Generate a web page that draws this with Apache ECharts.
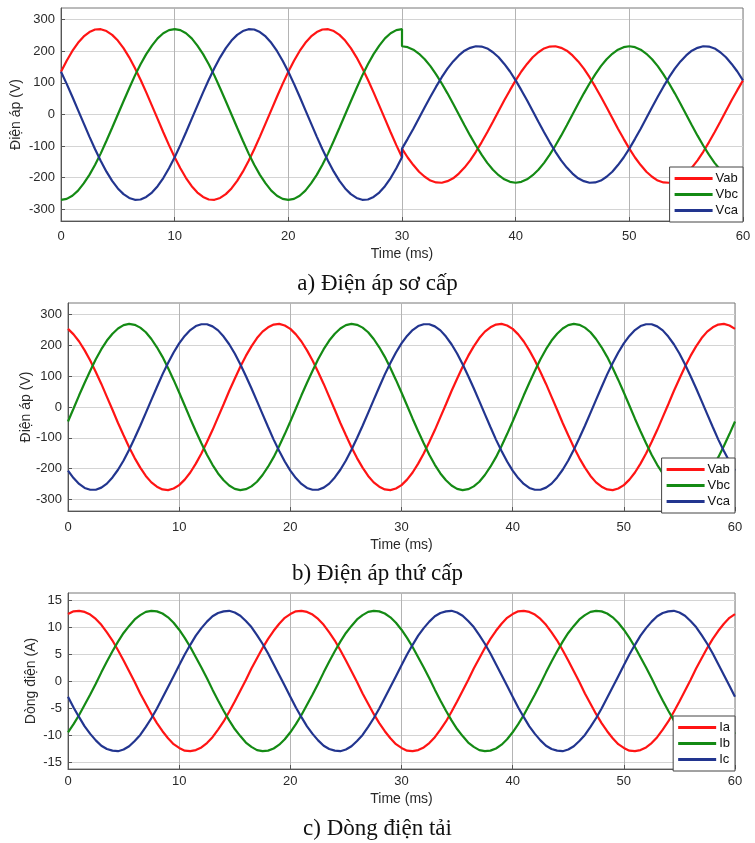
<!DOCTYPE html>
<html><head><meta charset="utf-8">
<script src="https://cdn.jsdelivr.net/npm/echarts@6/dist/echarts.min.js"></script>
<style>html,body{margin:0;padding:0;background:#fff}#c{width:755px;height:843px}</style>
</head><body><div id="c"></div>
<script>
// ---- time axes (ms) ----
const timeA = [0,0.5,1,1.5,2,2.5,3,3.5,4,4.5,5,5.5,6,6.5,7,7.5,8,8.5,9,9.5,
  10,10.5,11,11.5,12,12.5,13,13.5,14,14.5,15,15.5,16,16.5,17,17.5,18,18.5,19,19.5,
  20,20.5,21,21.5,22,22.5,23,23.5,24,24.5,25,25.5,26,26.5,27,27.5,28,28.5,29,29.5,30,
  30,30.5,31,31.5,32,32.5,33,33.5,34,34.5,35,35.5,36,36.5,37,37.5,38,38.5,39,39.5,
  40,40.5,41,41.5,42,42.5,43,43.5,44,44.5,45,45.5,46,46.5,47,47.5,48,48.5,49,49.5,
  50,50.5,51,51.5,52,52.5,53,53.5,54,54.5,55,55.5,56,56.5,57,57.5,58,58.5,59,59.5,60];
const timeBC = [0,0.5,1,1.5,2,2.5,3,3.5,4,4.5,5,5.5,6,6.5,7,7.5,8,8.5,9,9.5,
  10,10.5,11,11.5,12,12.5,13,13.5,14,14.5,15,15.5,16,16.5,17,17.5,18,18.5,19,19.5,
  20,20.5,21,21.5,22,22.5,23,23.5,24,24.5,25,25.5,26,26.5,27,27.5,28,28.5,29,29.5,
  30,30.5,31,31.5,32,32.5,33,33.5,34,34.5,35,35.5,36,36.5,37,37.5,38,38.5,39,39.5,
  40,40.5,41,41.5,42,42.5,43,43.5,44,44.5,45,45.5,46,46.5,47,47.5,48,48.5,49,49.5,
  50,50.5,51,51.5,52,52.5,53,53.5,54,54.5,55,55.5,56,56.5,57,57.5,58,58.5,59,59.5,60];

// ---- a) primary voltages (V) — amplitude step at 30 ms ----
const vabA = [
  135,170,201,227,247,261,269,270,264,252,234,210,181,147,110,70,28,-14,-56,-97,
  -135,-170,-201,-227,-247,-261,-269,-270,-264,-252,-234,-210,-181,-147,-110,-70,-28,14,56,97,
  135,170,201,227,247,261,269,270,264,252,234,210,181,147,110,70,28,-14,-56,-97,-135,
  -108,-136,-160,-181,-197,-209,-215,-216,-211,-202,-187,-168,-145,-118,-88,-56,-23,11,45,77,
  108,136,160,181,197,209,215,216,211,202,187,168,145,118,88,56,23,-11,-45,-77,
  -108,-136,-160,-181,-197,-209,-215,-216,-211,-202,-187,-168,-145,-118,-88,-56,-23,11,45,77,108];
const vbcA = [
  -270,-267,-257,-241,-218,-191,-159,-123,-83,-42,0,42,83,123,159,191,218,241,257,267,
  270,267,257,241,218,191,159,123,83,42,0,-42,-83,-123,-159,-191,-218,-241,-257,-267,
  -270,-267,-257,-241,-218,-191,-159,-123,-83,-42,0,42,83,123,159,191,218,241,257,267,270,
  216,213,205,192,175,153,127,98,67,34,0,-34,-67,-98,-127,-153,-175,-192,-205,-213,
  -216,-213,-205,-192,-175,-153,-127,-98,-67,-34,0,34,67,98,127,153,175,192,205,213,
  216,213,205,192,175,153,127,98,67,34,0,-34,-67,-98,-127,-153,-175,-192,-205,-213,-216];
const vcaA = [
  135,97,56,14,-28,-70,-110,-147,-181,-210,-234,-252,-264,-270,-269,-261,-247,-227,-201,-170,
  -135,-97,-56,-14,28,70,110,147,181,210,234,252,264,270,269,261,247,227,201,170,
  135,97,56,14,-28,-70,-110,-147,-181,-210,-234,-252,-264,-270,-269,-261,-247,-227,-201,-170,-135,
  -108,-77,-45,-11,23,56,88,118,145,168,187,202,211,216,215,209,197,181,160,136,
  108,77,45,11,-23,-56,-88,-118,-145,-168,-187,-202,-211,-216,-215,-209,-197,-181,-160,-136,
  -108,-77,-45,-11,23,56,88,118,145,168,187,202,211,216,215,209,197,181,160,136,108];

// ---- b) secondary voltages (V) ----
const vabB = [
  254,236,213,184,151,114,75,33,-9,-52,-92,-131,-166,-197,-224,-245,-259,-268,-270,-265,
  -254,-236,-213,-184,-151,-114,-75,-33,9,52,92,131,166,197,224,245,259,268,270,265,
  254,236,213,184,151,114,75,33,-9,-52,-92,-131,-166,-197,-224,-245,-259,-268,-270,-265,
  -254,-236,-213,-184,-151,-114,-75,-33,9,52,92,131,166,197,224,245,259,268,270,265,
  254,236,213,184,151,114,75,33,-9,-52,-92,-131,-166,-197,-224,-245,-259,-268,-270,-265,
  -254,-236,-213,-184,-151,-114,-75,-33,9,52,92,131,166,197,224,245,259,268,270,265,254];
const vbcB = [
  -47,-5,38,79,118,155,188,216,238,255,266,270,267,258,243,221,194,163,127,88,
  47,5,-38,-79,-118,-155,-188,-216,-238,-255,-266,-270,-267,-258,-243,-221,-194,-163,-127,-88,
  -47,-5,38,79,118,155,188,216,238,255,266,270,267,258,243,221,194,163,127,88,
  47,5,-38,-79,-118,-155,-188,-216,-238,-255,-266,-270,-267,-258,-243,-221,-194,-163,-127,-88,
  -47,-5,38,79,118,155,188,216,238,255,266,270,267,258,243,221,194,163,127,88,
  47,5,-38,-79,-118,-155,-188,-216,-238,-255,-266,-270,-267,-258,-243,-221,-194,-163,-127,-88,-47];
const vcaB = [
  -207,-231,-250,-263,-269,-269,-262,-249,-229,-204,-174,-139,-101,-61,-19,23,65,106,143,177,
  207,231,250,263,269,269,262,249,229,204,174,139,101,61,19,-23,-65,-106,-143,-177,
  -207,-231,-250,-263,-269,-269,-262,-249,-229,-204,-174,-139,-101,-61,-19,23,65,106,143,177,
  207,231,250,263,269,269,262,249,229,204,174,139,101,61,19,-23,-65,-106,-143,-177,
  -207,-231,-250,-263,-269,-269,-262,-249,-229,-204,-174,-139,-101,-61,-19,23,65,106,143,177,
  207,231,250,263,269,269,262,249,229,204,174,139,101,61,19,-23,-65,-106,-143,-177,-207];

// ---- c) load currents (A) ----
const iaC = [
  12.4,12.9,13.0,12.8,12.3,11.5,10.4,9.0,7.5,5.7,3.8,1.8,-0.2,-2.3,-4.2,-6.1,-7.8,-9.3,-10.6,-11.7,
  -12.4,-12.9,-13.0,-12.8,-12.3,-11.5,-10.4,-9.0,-7.5,-5.7,-3.8,-1.8,0.2,2.3,4.2,6.1,7.8,9.3,10.6,11.7,
  12.4,12.9,13.0,12.8,12.3,11.5,10.4,9.0,7.5,5.7,3.8,1.8,-0.2,-2.3,-4.2,-6.1,-7.8,-9.3,-10.6,-11.7,
  -12.4,-12.9,-13.0,-12.8,-12.3,-11.5,-10.4,-9.0,-7.5,-5.7,-3.8,-1.8,0.2,2.3,4.2,6.1,7.8,9.3,10.6,11.7,
  12.4,12.9,13.0,12.8,12.3,11.5,10.4,9.0,7.5,5.7,3.8,1.8,-0.2,-2.3,-4.2,-6.1,-7.8,-9.3,-10.6,-11.7,
  -12.4,-12.9,-13.0,-12.8,-12.3,-11.5,-10.4,-9.0,-7.5,-5.7,-3.8,-1.8,0.2,2.3,4.2,6.1,7.8,9.3,10.6,11.7,12.4];
const ibC = [
  -9.5,-8.0,-6.3,-4.4,-2.5,-0.5,1.6,3.6,5.5,7.3,8.9,10.2,11.4,12.2,12.8,13.0,12.9,12.5,11.8,10.8,
  9.5,8.0,6.3,4.4,2.5,0.5,-1.6,-3.6,-5.5,-7.3,-8.9,-10.2,-11.4,-12.2,-12.8,-13.0,-12.9,-12.5,-11.8,-10.8,
  -9.5,-8.0,-6.3,-4.4,-2.5,-0.5,1.6,3.6,5.5,7.3,8.9,10.2,11.4,12.2,12.8,13.0,12.9,12.5,11.8,10.8,
  9.5,8.0,6.3,4.4,2.5,0.5,-1.6,-3.6,-5.5,-7.3,-8.9,-10.2,-11.4,-12.2,-12.8,-13.0,-12.9,-12.5,-11.8,-10.8,
  -9.5,-8.0,-6.3,-4.4,-2.5,-0.5,1.6,3.6,5.5,7.3,8.9,10.2,11.4,12.2,12.8,13.0,12.9,12.5,11.8,10.8,
  9.5,8.0,6.3,4.4,2.5,0.5,-1.6,-3.6,-5.5,-7.3,-8.9,-10.2,-11.4,-12.2,-12.8,-13.0,-12.9,-12.5,-11.8,-10.8,-9.5];
const icC = [
  -2.9,-4.9,-6.7,-8.4,-9.8,-11.0,-12.0,-12.6,-12.9,-13.0,-12.7,-12.1,-11.1,-10.0,-8.5,-6.9,-5.1,-3.1,-1.1,0.9,
  2.9,4.9,6.7,8.4,9.8,11.0,12.0,12.6,12.9,13.0,12.7,12.1,11.1,10.0,8.5,6.9,5.1,3.1,1.1,-0.9,
  -2.9,-4.9,-6.7,-8.4,-9.8,-11.0,-12.0,-12.6,-12.9,-13.0,-12.7,-12.1,-11.1,-10.0,-8.5,-6.9,-5.1,-3.1,-1.1,0.9,
  2.9,4.9,6.7,8.4,9.8,11.0,12.0,12.6,12.9,13.0,12.7,12.1,11.1,10.0,8.5,6.9,5.1,3.1,1.1,-0.9,
  -2.9,-4.9,-6.7,-8.4,-9.8,-11.0,-12.0,-12.6,-12.9,-13.0,-12.7,-12.1,-11.1,-10.0,-8.5,-6.9,-5.1,-3.1,-1.1,0.9,
  2.9,4.9,6.7,8.4,9.8,11.0,12.0,12.6,12.9,13.0,12.7,12.1,11.1,10.0,8.5,6.9,5.1,3.1,1.1,-0.9,-2.9];

// ---- tick labels / names ----
const vTicks = [-300,-200,-100,0,100,200,300];
const iTicks = [-15,-10,-5,0,5,10,15];
const namesV = ['Vab','Vbc','Vca'];
const namesI = ['Ia','Ib','Ic'];
const captions = ['a) Điện áp sơ cấp','b) Điện áp thứ cấp','c) Dòng điện tải'];
const xName = 'Time (ms)';
const yNames = ['Điện áp (V)','Điện áp (V)','Dòng điện (A)'];

const COLORS = ['#ff1414','#148a14','#22358f'];
const SANS = '"Liberation Sans", Arial, sans-serif';
const TXT = '#2a2a2a';

const grids = [
  {left:61, top:8, width:682, height:213},
  {left:68, top:303, width:667, height:208},
  {left:68, top:593, width:667, height:176}
];
const yExt = [[-337,337],[-338,338],[-16.3,16.3]];
const yTicks = [vTicks, vTicks, iTicks];
const xLabelMargin = [9,10,6];
const xNameGap = [26,27,23];
const yNameGap = [38,35,30];

const pair = (t, v) => t.map((x,i)=>[x, v[i]]);

const option = {
  animation:false,
  backgroundColor:'#fff',
  grid: grids.map(g=>Object.assign({show:true, borderColor:'#777', borderWidth:1, backgroundColor:'#fff'}, g)),
  xAxis: grids.map((g,i)=>({
    gridIndex:i, type:'value', min:0, max:60, interval:10,
    name:xName, nameLocation:'middle', nameGap:xNameGap[i], nameMoveOverlap:false,
    nameTextStyle:{fontFamily:SANS, fontSize:14, color:TXT},
    axisLine:{show:true, onZero:false, lineStyle:{color:'#555'}},
    axisTick:{show:true, inside:true, length:4, lineStyle:{color:'#555'}},
    axisLabel:{fontFamily:SANS, fontSize:13, color:TXT, margin:xLabelMargin[i]},
    splitLine:{show:true, lineStyle:{color:'#b4b4b4', width:1}}
  })),
  yAxis: grids.map((g,i)=>({
    gridIndex:i, type:'value', min:yExt[i][0], max:yExt[i][1],
    name:yNames[i], nameLocation:'middle', nameGap:yNameGap[i], nameRotate:90, nameMoveOverlap:false,
    nameTextStyle:{fontFamily:SANS, fontSize:14, color:TXT},
    axisLine:{show:true, lineStyle:{color:'#555'}},
    axisTick:{show:true, inside:true, length:4, customValues:yTicks[i], lineStyle:{color:'#555'}},
    axisLabel:{fontFamily:SANS, fontSize:13, color:TXT, margin:6, customValues:yTicks[i]},
    splitLine:{show:true, lineStyle:{color:'#d4d4d4', width:1}}
  })),
  legend: [
    {data:namesV, right:12, top:167},
    {data:namesV, right:20, top:458},
    {data:namesI, right:20, top:716}
  ].map(l=>Object.assign({
    orient:'vertical', backgroundColor:'#fff', borderColor:'#444', borderWidth:1,
    padding:[4,5,4,5], itemGap:1, itemWidth:38, itemHeight:3, icon:'rect',
    textStyle:{fontFamily:SANS, fontSize:13, color:'#111', lineHeight:15, padding:[0,0,0,-2]}
  }, l)),
  graphic: captions.map((c,i)=>({
    type:'text', left:'center', top:[272,562,817][i],
    style:{text:c, font:'23px "Liberation Serif", "Times New Roman", serif', fill:'#111'}
  })),
  series: []
};

const add = (name, gi, t, v, color) => option.series.push({
  name, type:'line', xAxisIndex:gi, yAxisIndex:gi, data:pair(t, v),
  symbol:'none', smooth:false, lineStyle:{width:2.2, color}, itemStyle:{color}, z:3
});
add(namesV[0],0,timeA,vabA,COLORS[0]);
add(namesV[1],0,timeA,vbcA,COLORS[1]);
add(namesV[2],0,timeA,vcaA,COLORS[2]);
add(namesV[0],1,timeBC,vabB,COLORS[0]);
add(namesV[1],1,timeBC,vbcB,COLORS[1]);
add(namesV[2],1,timeBC,vcaB,COLORS[2]);
add(namesI[0],2,timeBC,iaC,COLORS[0]);
add(namesI[1],2,timeBC,ibC,COLORS[1]);
add(namesI[2],2,timeBC,icC,COLORS[2]);

const chart = echarts.init(document.getElementById('c'), null, {renderer:'canvas'});
chart.setOption(option);
</script>
</body></html>
